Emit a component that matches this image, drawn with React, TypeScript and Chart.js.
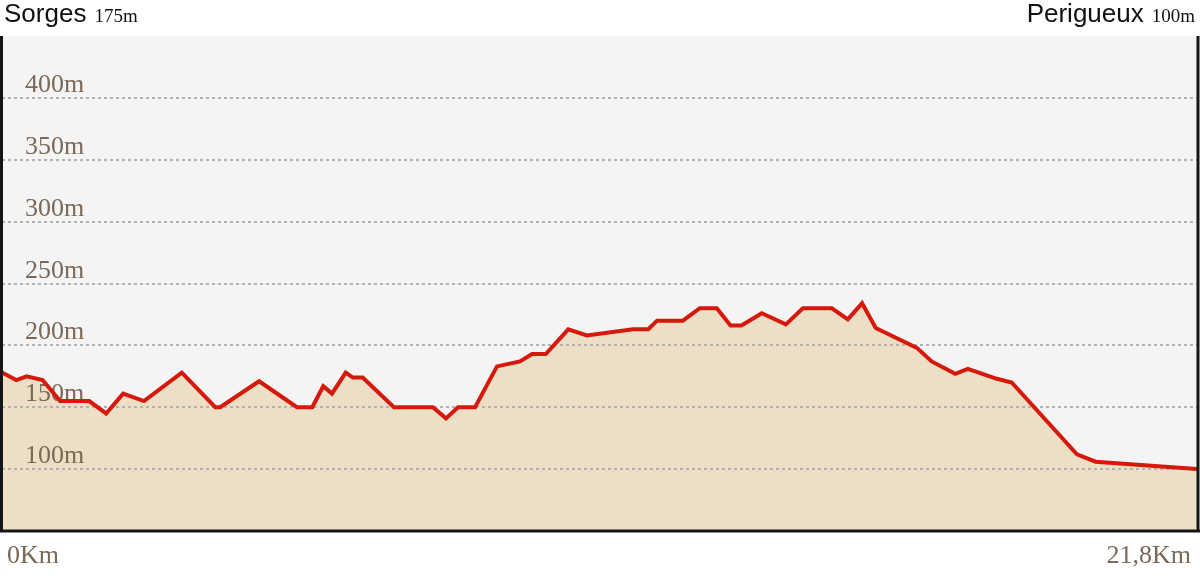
import { useEffect, useRef } from 'react';
import { Chart, registerables } from 'chart.js';

Chart.register(...registerables);

const distanceKm = [
  0, 0.26, 0.45, 0.74, 1.06, 1.59, 1.9, 2.21, 2.59, 3.28, 3.89, 3.98, 4.69, 5.38, 5.66, 5.86, 6.02, 6.27,
  6.4, 6.58, 7.15, 7.86, 8.1, 8.32, 8.63, 9.03, 9.45, 9.67, 9.92, 10.33, 10.67, 11.51, 11.79, 11.95, 12.42,
  12.73, 13.04, 13.29, 13.49, 13.86, 14.3, 14.61, 15.14, 15.43, 15.69, 15.94, 16.69, 16.96, 17.39, 17.62,
  18.15, 18.42, 19.61, 19.95, 21.8,
];
const elevationM = [
  178, 172, 175, 172, 155, 155, 145, 161, 155, 178, 150, 150, 171, 150, 150, 167, 161, 178,
  174, 174, 150, 150, 141, 150, 150, 183, 187, 193, 193, 213, 208, 213, 213, 220, 220,
  230, 230, 216, 216, 226, 217, 230, 230, 221, 234, 214, 198, 187, 177, 181,
  173, 170, 112, 106, 100,
];
const gridValues = [100, 150, 200, 250, 300, 350, 400];
const gridLabels = ['100m', '150m', '200m', '250m', '300m', '350m', '400m'];
const xEndLabels = ['0Km', '21,8Km'];
const startName = 'Sorges';
const startAlt = '175m';
const endName = 'Perigueux';
const endAlt = '100m';

const SERIF = '"Liberation Serif", "DejaVu Serif", serif';
const SANS = '"Liberation Sans", Arial, sans-serif';
const LABEL_COLOR = '#7a6858';

export default function App() {
  const ref = useRef<HTMLCanvasElement>(null);

  useEffect(() => {
    const canvas = ref.current;
    if (!canvas) return;
    const data = distanceKm.map((x, i) => ({ x, y: elevationM[i] }));

    const deco = {
      id: 'deco',
      beforeDraw(chart: any) {
        const { ctx, chartArea: a } = chart;
        ctx.save();
        ctx.fillStyle = '#ffffff';
        ctx.fillRect(0, 0, chart.width, chart.height);
        ctx.fillStyle = '#f4f4f4';
        ctx.fillRect(a.left, a.top, a.right - a.left, a.bottom - a.top);
        ctx.restore();
      },
      beforeDatasetDraw(chart: any, args: any) {
        if (args.index !== 0) return;
        const { ctx, chartArea: a } = chart;
        const y = chart.scales.y;
        ctx.save();
        ctx.strokeStyle = '#b2b2b2';
        ctx.lineWidth = 2;
        ctx.setLineDash([3, 3]);
        gridValues.forEach((v) => {
          const py = Math.round(y.getPixelForValue(v));
          ctx.beginPath();
          ctx.moveTo(a.left, py);
          ctx.lineTo(a.right, py);
          ctx.stroke();
        });
        ctx.setLineDash([]);
        ctx.fillStyle = LABEL_COLOR;
        ctx.font = `26px ${SERIF}`;
        ctx.textAlign = 'left';
        ctx.textBaseline = 'alphabetic';
        gridValues.forEach((v, i) => {
          const py = y.getPixelForValue(v);
          ctx.fillText(gridLabels[i], 25, py - 6);
        });
        ctx.restore();
      },
      afterDraw(chart: any) {
        const { ctx, chartArea: a } = chart;
        ctx.save();
        // borders
        ctx.strokeStyle = '#151515';
        ctx.lineWidth = 3;
        ctx.beginPath();
        ctx.moveTo(1.5, a.top);
        ctx.lineTo(1.5, a.bottom);
        ctx.moveTo(0, a.bottom);
        ctx.lineTo(1200, a.bottom);
        ctx.moveTo(1198, a.top);
        ctx.lineTo(1198, a.bottom);
        ctx.stroke();
        // bottom labels
        ctx.fillStyle = LABEL_COLOR;
        ctx.font = `26px ${SERIF}`;
        ctx.textBaseline = 'alphabetic';
        ctx.textAlign = 'left';
        ctx.fillText(xEndLabels[0], 7, 563);
        ctx.textAlign = 'right';
        ctx.fillText(xEndLabels[1], 1191, 563);
        // titles
        ctx.fillStyle = '#111111';
        ctx.textAlign = 'left';
        ctx.font = `26px ${SANS}`;
        ctx.fillText(startName, 4, 22);
        const w = ctx.measureText(startName).width;
        ctx.font = `19px ${SERIF}`;
        ctx.fillText(startAlt, 4 + w + 8, 22);
        ctx.textAlign = 'right';
        ctx.fillText(endAlt, 1195, 22);
        const w2 = ctx.measureText(endAlt).width;
        ctx.font = `26px ${SANS}`;
        ctx.fillText(endName, 1195 - w2 - 8, 22);
        ctx.restore();
      },
    };

    const chart = new Chart(canvas, {
      type: 'line',
      data: {
        datasets: [
          {
            data,
            borderColor: '#d5190c',
            borderWidth: 4,
            borderJoinStyle: 'miter',
            fill: false,
            pointRadius: 0,
            tension: 0,
          },
          {
            data,
            borderWidth: 0,
            borderColor: 'rgba(0,0,0,0)',
            backgroundColor: '#ecdfc6',
            fill: 'start',
            pointRadius: 0,
            tension: 0,
          },
        ],
      },
      options: {
        animation: false,
        responsive: false,
        maintainAspectRatio: false,
        devicePixelRatio: 1,
        layout: { padding: { left: 2, right: 3, top: 36, bottom: 50 } },
        plugins: { legend: { display: false }, tooltip: { enabled: false } },
        scales: {
          x: { type: 'linear', min: 0, max: 21.8, display: false },
          y: { type: 'linear', min: 50, max: 450, display: false },
        },
      } as any,
      plugins: [deco],
    });
    return () => chart.destroy();
  }, []);

  return (
    <div style={{ position: 'absolute', left: 0, top: 0, width: 1200, height: 581 }}>
      <canvas ref={ref} width={1200} height={581} style={{ display: 'block' }} />
    </div>
  );
}
